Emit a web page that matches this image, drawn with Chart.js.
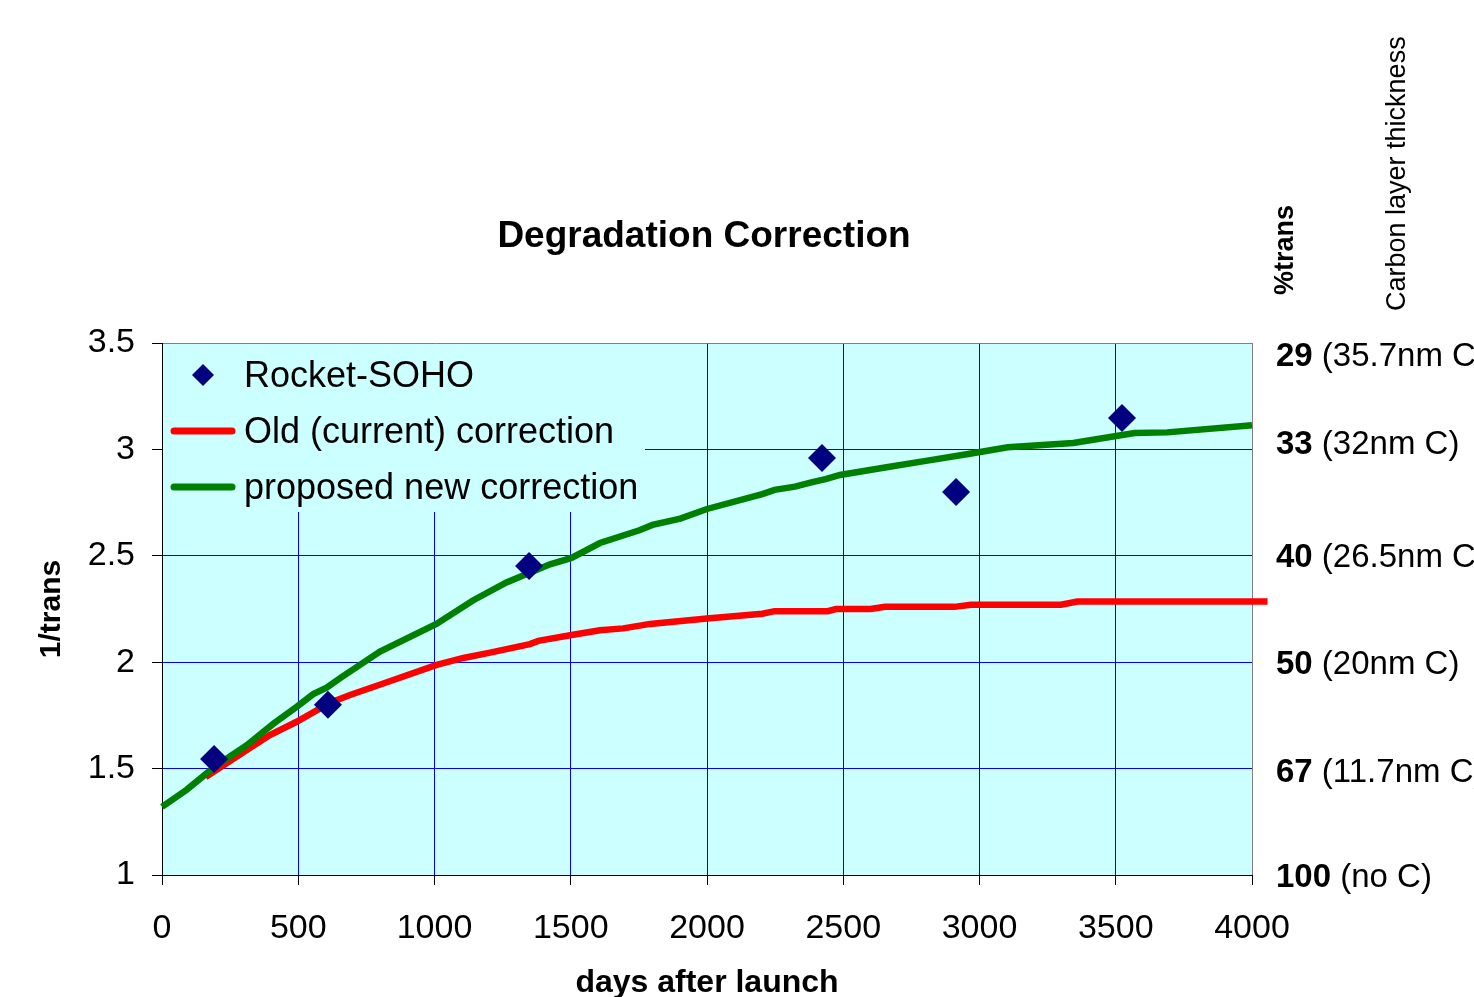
<!DOCTYPE html>
<html>
<head>
<meta charset="utf-8">
<script src="https://cdn.jsdelivr.net/npm/chart.js@4"></script>
<style>
  html, body { margin: 0; padding: 0; background: #fff; }
  canvas { display: block; }
</style>
</head>
<body>
<canvas id="degChart" width="1474" height="997"></canvas>
<script>
// measured points (days after launch, 1/trans)
const rocketDays  = [191, 609, 1347, 2422, 2914, 3523];
const rocketTrans = [1.545, 1.80, 2.452, 2.96, 2.80, 3.148];

// old (current) correction curve
const oldDays  = [160, 311, 396, 494, 617, 690, 812, 1008, 1106, 1204, 1350, 1381, 1503, 1607, 1693, 1791,
                  2000, 2203, 2248, 2443, 2473, 2600, 2653, 2908, 2968, 3299, 3359, 4057];
const oldTrans = [1.46, 1.587, 1.658, 1.72, 1.81, 1.846, 1.90, 1.987, 2.02, 2.045, 2.085, 2.10, 2.128, 2.15, 2.159, 2.18,
                  2.205, 2.228, 2.24, 2.24, 2.25, 2.25, 2.26, 2.26, 2.27, 2.27, 2.285, 2.285];

// proposed new correction curve
const newDays  = [0, 90, 195, 311, 408, 494, 555, 604, 659, 800, 1007, 1141, 1264, 1424, 1503, 1607, 1752, 1800,
                  1902, 2000, 2203, 2248, 2323, 2383, 2435, 2488, 2653, 2803, 2953, 3013, 3104, 3344, 3569, 3689, 4000, 4057];
const newTrans = [1.32, 1.40, 1.51, 1.61, 1.71, 1.79, 1.85, 1.88, 1.93, 2.05, 2.18, 2.29, 2.375, 2.46, 2.49, 2.56, 2.62, 2.645,
                  2.675, 2.72, 2.79, 2.81, 2.825, 2.845, 2.86, 2.88, 2.915, 2.946, 2.977, 2.99, 3.01, 3.03, 3.077, 3.08, 3.113, 3.125];

const xTicks = [0, 500, 1000, 1500, 2000, 2500, 3000, 3500, 4000];
const yTicks = [1, 1.5, 2, 2.5, 3, 3.5];

// right hand annotation: %trans and carbon layer thickness
const pctTrans    = [29, 33, 40, 50, 67, 100];
const carbonNotes = ['(35.7nm C)', '(32nm C)', '(26.5nm C)', '(20nm C)', '(11.7nm C)', '(no C)'];

const FONT = "'Liberation Sans', Arial, sans-serif";

function toPoints(xs, ys) {
  return xs.map((x, i) => ({ x: x, y: ys[i] }));
}

const extras = {
  id: 'extras',
  beforeDraw(chart) {
    const a = chart.chartArea, ctx = chart.ctx;
    ctx.save();
    ctx.fillStyle = '#CCFFFF';
    ctx.fillRect(a.left, a.top, a.right - a.left, a.bottom - a.top);
    ctx.restore();
  },
  beforeDatasetsDraw(chart) {
    // legend sits inside the plot, hiding the grid behind it
    const a = chart.chartArea, ctx = chart.ctx;
    ctx.save();
    ctx.fillStyle = '#CCFFFF';
    ctx.fillRect(a.left + 1, a.top + 1, 482, 168);
    const ds = chart.data.datasets;
    ctx.font = '36px ' + FONT;
    ctx.textBaseline = 'alphabetic';
    ctx.textAlign = 'left';
    for (let i = 0; i < ds.length; i++) {
      const cy = a.top + 32 + i * 56;
      if (ds[i].showLine === false) {
        ctx.fillStyle = ds[i].backgroundColor;
        ctx.beginPath();
        ctx.moveTo(203 - 11, cy);
        ctx.lineTo(203, cy - 11);
        ctx.lineTo(203 + 11, cy);
        ctx.lineTo(203, cy + 11);
        ctx.closePath();
        ctx.fill();
      } else {
        ctx.strokeStyle = ds[i].borderColor;
        ctx.lineWidth = 7;
        ctx.lineCap = 'round';
        ctx.beginPath();
        ctx.moveTo(174, cy);
        ctx.lineTo(232, cy);
        ctx.stroke();
      }
      ctx.fillStyle = '#000';
      ctx.fillText(ds[i].label, 244, cy + 12);
    }
    ctx.restore();
  },
  afterDraw(chart) {
    const ctx = chart.ctx, y = chart.scales.y;
    ctx.save();
    ctx.fillStyle = '#000';
    ctx.textBaseline = 'alphabetic';

    ctx.font = 'bold 37px ' + FONT;
    ctx.textAlign = 'center';
    ctx.fillText('Degradation Correction', 704, 247);

    ctx.textAlign = 'left';
    for (let i = 0; i < pctTrans.length; i++) {
      const py = y.getPixelForValue(100 / pctTrans[i]) + 11.5;
      ctx.font = 'bold 33px ' + FONT;
      const num = pctTrans[i] + ' ';
      ctx.fillText(num, 1276, py);
      const w = ctx.measureText(num).width;
      ctx.font = '33px ' + FONT;
      ctx.fillText(carbonNotes[i], 1276 + w, py);
    }

    ctx.save();
    ctx.translate(1293, 295);
    ctx.rotate(-Math.PI / 2);
    ctx.font = 'bold 27px ' + FONT;
    ctx.fillText('%trans', 0, 0);
    ctx.restore();

    ctx.save();
    ctx.translate(1405, 311);
    ctx.rotate(-Math.PI / 2);
    ctx.font = '27px ' + FONT;
    ctx.fillText('Carbon layer thickness', 0, 0);
    ctx.restore();

    ctx.restore();
  }
};

new Chart(document.getElementById('degChart').getContext('2d'), {
  type: 'scatter',
  data: {
    datasets: [
      {
        label: 'Rocket-SOHO',
        data: toPoints(rocketDays, rocketTrans),
        showLine: false,
        pointStyle: 'rectRot',
        pointRadius: 14,
        pointBorderWidth: 0,
        backgroundColor: '#000080',
        borderColor: '#000080',
        order: 0
      },
      {
        type: 'line',
        label: 'Old (current) correction',
        data: toPoints(oldDays, oldTrans),
        borderColor: '#FF0000',
        borderWidth: 6.5,
        pointRadius: 0,
        tension: 0,
        clip: false,
        order: 2
      },
      {
        type: 'line',
        label: 'proposed new correction',
        data: toPoints(newDays, newTrans),
        borderColor: '#008000',
        borderWidth: 6.5,
        pointRadius: 0,
        tension: 0,
        clip: false,
        order: 1
      }
    ]
  },
  options: {
    responsive: false,
    animation: false,
    layout: { padding: { top: 343, right: 222, left: 0, bottom: 0 } },
    plugins: {
      legend: { display: false },
      tooltip: { enabled: false }
    },
    scales: {
      x: {
        type: 'linear',
        min: 0,
        max: 4000,
        afterFit(s) { s.height = 122; },
        afterBuildTicks(s) { s.ticks = xTicks.map(v => ({ value: v })); },
        ticks: {
          padding: 23,
          color: '#000',
          font: { family: FONT, size: 34 },
          callback: v => String(v)
        },
        grid: {
          color: c => c.tick && c.tick.value === 4000 ? '#808080' : '#0000FF',
          lineWidth: 1,
          tickLength: 10,
          tickColor: '#000'
        },
        border: { display: true, color: '#000', width: 1 },
        title: {
          display: true,
          text: 'days after launch',
          color: '#000',
          font: { family: FONT, size: 32, weight: 'bold', lineHeight: 0.85 },
          padding: { top: 0, bottom: 0 }
        }
      },
      y: {
        min: 1,
        max: 3.5,
        afterFit(s) { s.width = 162; },
        afterBuildTicks(s) { s.ticks = yTicks.map(v => ({ value: v })); },
        ticks: {
          padding: 17,
          color: '#000',
          font: { family: FONT, size: 34 },
          callback: v => String(v)
        },
        grid: {
          color: c => c.tick && c.tick.value === 3.5 ? '#808080' : '#0000FF',
          lineWidth: 1,
          tickLength: 10,
          tickColor: '#000'
        },
        border: { display: true, color: '#000', width: 1 },
        title: {
          display: true,
          text: '1/trans',
          color: '#000',
          font: { family: FONT, size: 30, weight: 'bold' },
          padding: { top: 34, bottom: 0 }
        }
      }
    }
  },
  plugins: [extras]
});
</script>
</body>
</html>
